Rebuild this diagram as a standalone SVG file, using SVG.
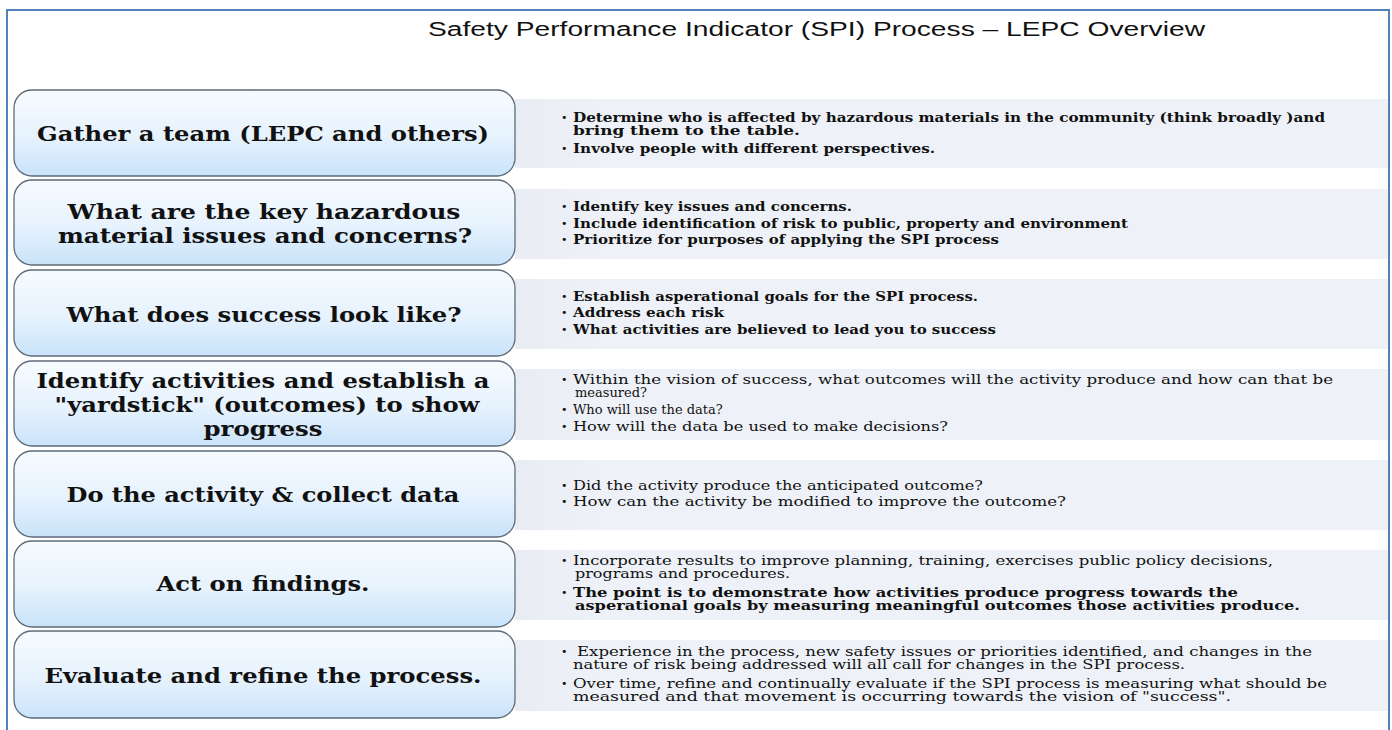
<svg xmlns="http://www.w3.org/2000/svg" width="1392" height="730" viewBox="0 0 1392 730">
<defs>
<linearGradient id="boxg" x1="0" y1="0" x2="0" y2="1">
<stop offset="0" stop-color="#f7fbff"/>
<stop offset="0.55" stop-color="#e6f2fd"/>
<stop offset="1" stop-color="#c9e3fa"/>
</linearGradient>
<linearGradient id="panelg" x1="0" y1="0" x2="1" y2="0">
<stop offset="0" stop-color="#e9edf3"/>
<stop offset="0.1" stop-color="#eef1f7"/>
<stop offset="1" stop-color="#eef1f7"/>
</linearGradient>
</defs>
<style>
.frame{fill:#ffffff;stroke:#4f81bd;stroke-width:2}
.box{fill:url(#boxg);stroke:#5f6b78;stroke-width:1.3}
.panel{fill:url(#panelg)}
.title{font-family:"Liberation Sans",Arial,sans-serif;font-size:20px;fill:#111}
.bt{font-family:"DejaVu Serif","Liberation Serif",serif;font-weight:bold;font-size:21px;fill:#111;text-anchor:middle}
.pt{font-family:"DejaVu Serif","Liberation Serif",serif;font-size:13px;fill:#111}
.pb{font-weight:bold}
.bul{font-family:"DejaVu Sans",sans-serif;font-size:11px;fill:#111}
</style>
<rect class="frame" x="7" y="10" width="1382" height="730"/>
<text class="title" x="428" y="36" textLength="777" lengthAdjust="spacingAndGlyphs">Safety Performance Indicator (SPI) Process – LEPC Overview</text>

<g id="panels">
<rect class="panel" x="515" y="99" width="873" height="69"/>
<rect class="panel" x="515" y="189" width="873" height="70"/>
<rect class="panel" x="515" y="279" width="873" height="70"/>
<rect class="panel" x="515" y="369" width="873" height="71"/>
<rect class="panel" x="515" y="460" width="873" height="70"/>
<rect class="panel" x="515" y="550" width="873" height="70"/>
<rect class="panel" x="515" y="640" width="873" height="71"/>
</g>

<g id="step1">
<rect class="box" x="14" y="90" width="501" height="86" rx="18"/>
<text class="bt" x="263" y="141" textLength="452" lengthAdjust="spacingAndGlyphs">Gather a team (LEPC and others)</text>
<text class="bul" x="561" y="121">•</text>
<text class="pt pb" x="573" y="122" textLength="752" lengthAdjust="spacingAndGlyphs">Determine who is affected by hazardous materials in the community (think broadly )and</text>
<text class="pt pb" x="573" y="135" textLength="227" lengthAdjust="spacingAndGlyphs">bring them to the table.</text>
<text class="bul" x="561" y="152">•</text>
<text class="pt pb" x="573" y="153" textLength="362" lengthAdjust="spacingAndGlyphs">Involve people with different perspectives.</text>
</g>

<g id="step2">
<rect class="box" x="14" y="180" width="501" height="85" rx="18"/>
<text class="bt" x="264" y="219" textLength="393" lengthAdjust="spacingAndGlyphs">What  are the key hazardous</text>
<text class="bt" x="265" y="243" textLength="414" lengthAdjust="spacingAndGlyphs">material issues and concerns?</text>
<text class="bul" x="561" y="210">•</text>
<text class="pt pb" x="573" y="211" textLength="279" lengthAdjust="spacingAndGlyphs">Identify key issues and concerns.</text>
<text class="bul" x="561" y="227">•</text>
<text class="pt pb" x="573" y="228" textLength="555" lengthAdjust="spacingAndGlyphs">Include identification of risk to public, property and environment</text>
<text class="bul" x="561" y="243">•</text>
<text class="pt pb" x="573" y="244" textLength="426" lengthAdjust="spacingAndGlyphs">Prioritize for purposes of applying the SPI process</text>
</g>

<g id="step3">
<rect class="box" x="14" y="270" width="501" height="86" rx="18"/>
<text class="bt" x="264" y="322" textLength="395" lengthAdjust="spacingAndGlyphs">What does success look like?</text>
<text class="bul" x="561" y="300">•</text>
<text class="pt pb" x="573" y="301" textLength="405" lengthAdjust="spacingAndGlyphs">Establish asperational goals for the SPI process.</text>
<text class="bul" x="561" y="316">•</text>
<text class="pt pb" x="573" y="317" textLength="151" lengthAdjust="spacingAndGlyphs">Address each risk</text>
<text class="bul" x="561" y="333">•</text>
<text class="pt pb" x="573" y="334" textLength="423" lengthAdjust="spacingAndGlyphs">What activities are believed to lead you to success</text>
</g>

<g id="step4">
<rect class="box" x="14" y="361" width="501" height="85" rx="18"/>
<text class="bt" x="263" y="388" textLength="453" lengthAdjust="spacingAndGlyphs">Identify activities and establish a</text>
<text class="bt" x="267" y="412" textLength="425" lengthAdjust="spacingAndGlyphs">"yardstick" (outcomes) to show</text>
<text class="bt" x="263" y="436" textLength="119" lengthAdjust="spacingAndGlyphs">progress</text>
<text class="bul" x="561" y="383">•</text>
<text class="pt" x="573" y="384" textLength="760" lengthAdjust="spacingAndGlyphs">Within the vision of success, what outcomes will the activity produce and how can that be</text>
<text class="pt" x="575" y="397">measured?</text>
<text class="bul" x="561" y="413">•</text>
<text class="pt" x="573" y="414">Who will use the data?</text>
<text class="bul" x="561" y="430">•</text>
<text class="pt" x="573" y="431" textLength="375" lengthAdjust="spacingAndGlyphs">How will the data be used to make decisions?</text>
</g>

<g id="step5">
<rect class="box" x="14" y="451" width="501" height="86" rx="18"/>
<text class="bt" x="263" y="502" textLength="393" lengthAdjust="spacingAndGlyphs">Do the activity &amp; collect data</text>
<text class="bul" x="561" y="489">•</text>
<text class="pt" x="573" y="490" textLength="410" lengthAdjust="spacingAndGlyphs">Did the activity produce the anticipated outcome?</text>
<text class="bul" x="561" y="505">•</text>
<text class="pt" x="573" y="506" textLength="493" lengthAdjust="spacingAndGlyphs">How can the activity be modified to improve the outcome?</text>
</g>

<g id="step6">
<rect class="box" x="14" y="541" width="501" height="86" rx="18"/>
<text class="bt" x="263" y="591" textLength="213" lengthAdjust="spacingAndGlyphs">Act on findings.</text>
<text class="bul" x="561" y="564">•</text>
<text class="pt" x="573" y="565" textLength="700" lengthAdjust="spacingAndGlyphs">Incorporate results to improve planning, training, exercises public policy decisions,</text>
<text class="pt" x="575" y="578" textLength="215" lengthAdjust="spacingAndGlyphs">programs and procedures.</text>
<text class="bul" x="561" y="596">•</text>
<text class="pt pb" x="573" y="597" textLength="665" lengthAdjust="spacingAndGlyphs">The point is to demonstrate how activities produce progress towards the</text>
<text class="pt pb" x="575" y="610" textLength="725" lengthAdjust="spacingAndGlyphs">asperational goals by measuring meaningful outcomes those activities produce.</text>
</g>

<g id="step7">
<rect class="box" x="14" y="631" width="501" height="87" rx="18"/>
<text class="bt" x="263" y="683" textLength="437" lengthAdjust="spacingAndGlyphs">Evaluate and refine the process.</text>
<text class="bul" x="561" y="655">•</text>
<text class="pt" x="577" y="656" textLength="735" lengthAdjust="spacingAndGlyphs">Experience in the process, new safety issues or priorities identified, and changes in the</text>
<text class="pt" x="573" y="669" textLength="612" lengthAdjust="spacingAndGlyphs">nature of risk being addressed will all call for changes in the SPI process.</text>
<text class="bul" x="561" y="687">•</text>
<text class="pt" x="573" y="688" textLength="754" lengthAdjust="spacingAndGlyphs">Over time, refine and continually evaluate if the SPI process is measuring what should be</text>
<text class="pt" x="573" y="701" textLength="658" lengthAdjust="spacingAndGlyphs">measured and that movement is occurring towards the vision of "success".</text>
</g>
<g id="connectors"/>
</svg>
